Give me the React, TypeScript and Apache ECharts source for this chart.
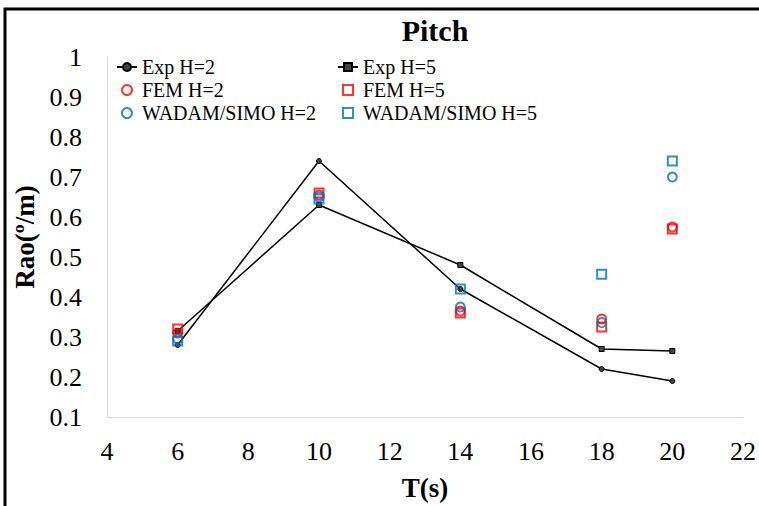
import React, { useEffect, useRef } from "react";
import * as echarts from "echarts";

const periods = [6, 10, 14, 18, 20];
const expH2 = [0.28, 0.74, 0.42, 0.22, 0.19];
const expH5 = [0.315, 0.63, 0.48, 0.27, 0.265];
const femH2 = [0.31, 0.655, 0.365, 0.345, 0.575];
const femH5 = [0.32, 0.66, 0.36, 0.325, 0.57];
const wadamH2 = [0.295, 0.65, 0.375, 0.336, 0.7];
const wadamH5 = [0.29, 0.645, 0.42, 0.457, 0.74];

const FONT = "'Liberation Serif', 'Times New Roman', serif";
const RED = "#FF0000";
const BLUE = "#0070C0";
const SQUARE = "path://M0 0H10V10H0Z";

const pairs = (vals: number[]) => periods.map((p, i) => [p, vals[i]]);

export default function App() {
  const ref = useRef<HTMLDivElement>(null);
  useEffect(() => {
    document.body.style.margin = "0";
    const chart = echarts.init(ref.current!, null, { renderer: "svg" });
    const hollow = (color: string, symbol: string, name: string, vals: number[]) => ({
      name,
      type: "scatter",
      data: pairs(vals),
      symbol,
      symbolSize: 9,
      symbolKeepAspect: true,
      itemStyle: { color: "rgba(255,255,255,0)", borderColor: color, borderWidth: 2 },
      z: 3,
    });
    const legendText = { fontFamily: FONT, fontSize: 20, color: "#000" };
    chart.setOption({
      animation: false,
      backgroundColor: "#fff",
      title: {
        text: "Pitch",
        left: 430,
        top: 10,
        textAlign: "center",
        textStyle: { fontFamily: FONT, fontSize: 30, fontWeight: "bold", color: "#000" },
      },
      graphic: [
        {
          type: "polyline",
          shape: { points: [[5, 506], [5, 9], [759, 9]] },
          style: { stroke: "#000", lineWidth: 3, fill: null },
          silent: true,
        },
      ],
      legend: [
        {
          orient: "vertical",
          left: 111,
          top: 52,
          itemWidth: 20,
          itemHeight: 10,
          itemGap: 3,
          data: ["Exp H=2", "FEM H=2", "WADAM/SIMO H=2"],
          textStyle: legendText,
        },
        {
          orient: "vertical",
          left: 332,
          top: 52,
          itemWidth: 20,
          itemHeight: 10,
          itemGap: 3,
          data: ["Exp H=5", "FEM H=5", "WADAM/SIMO H=5"],
          textStyle: legendText,
        },
      ],
      grid: { left: 107, right: 16, top: 57, bottom: 89, containLabel: false, outerBoundsMode: "none" },
      xAxis: {
        type: "value",
        min: 4,
        max: 22,
        interval: 2,
        name: "T(s)",
        nameLocation: "middle",
        nameGap: 57,
        nameTextStyle: { fontFamily: FONT, fontSize: 27, fontWeight: "bold", color: "#000" },
        axisLine: { show: true, onZero: false, lineStyle: { color: "#D9D9D9", width: 1 } },
        axisTick: { show: false },
        splitLine: { show: false },
        axisLabel: { fontFamily: FONT, fontSize: 26, color: "#000", margin: 21 },
      },
      yAxis: {
        type: "value",
        min: 0.1,
        max: 1,
        interval: 0.1,
        name: "Rao(º/m)",
        nameLocation: "middle",
        nameGap: 62,
        nameRotate: 90,
        nameTextStyle: { fontFamily: FONT, fontSize: 27, fontWeight: "bold", color: "#000" },
        axisLine: { show: true, lineStyle: { color: "#D9D9D9", width: 1 } },
        axisTick: { show: false },
        splitLine: { show: false },
        axisLabel: {
          fontFamily: FONT,
          fontSize: 26,
          color: "#000",
          margin: 25,
          formatter: (v: number) => String(+v.toFixed(1)),
        },
      },
      series: [
        {
          name: "Exp H=2",
          type: "line",
          data: pairs(expH2),
          symbol: "circle",
          symbolSize: 5,
          lineStyle: { color: "#000", width: 1.5 },
          itemStyle: { color: "#444", borderColor: "#000", borderWidth: 1 },
          z: 2,
        },
        {
          name: "Exp H=5",
          type: "line",
          data: pairs(expH5),
          symbol: "rect",
          symbolSize: 5,
          lineStyle: { color: "#000", width: 1.5 },
          itemStyle: { color: "#444", borderColor: "#000", borderWidth: 1 },
          z: 2,
        },
        hollow(RED, "circle", "FEM H=2", femH2),
        hollow(RED, SQUARE, "FEM H=5", femH5),
        hollow(BLUE, "circle", "WADAM/SIMO H=2", wadamH2),
        hollow(BLUE, SQUARE, "WADAM/SIMO H=5", wadamH5),
      ],
    });
    return () => chart.dispose();
  }, []);
  return <div ref={ref} style={{ width: 759, height: 506 }} />;
}
